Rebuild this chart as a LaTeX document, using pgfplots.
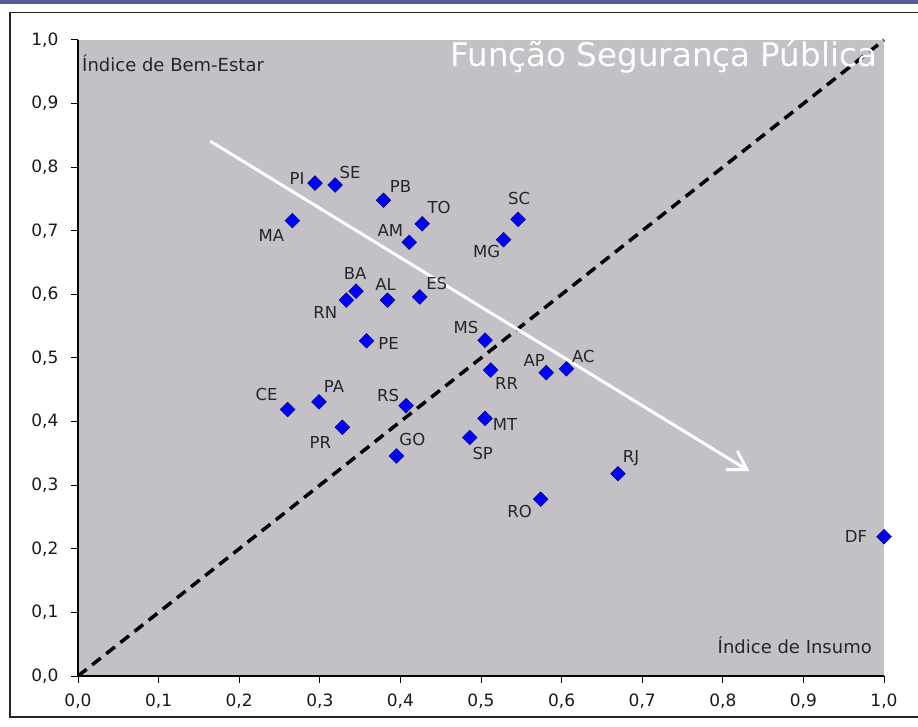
\documentclass[border=0pt]{standalone}
\usepackage{fontspec}
\setmainfont{DejaVu Sans}
\usepackage{pgfplots}
\usepackage{pgfplotstable}
\pgfplotsset{compat=1.18}
\usetikzlibrary{arrows.meta}
\definecolor{plotgray}{RGB}{195,193,198}
\definecolor{band}{RGB}{88,92,150}
\definecolor{mblue}{RGB}{0,0,255}

\pgfplotstableread{
label x y dx dy
PI 0.294 0.775 -18 5
SE 0.319 0.772 15 13
PB 0.379 0.748 17 14
TO 0.427 0.711 17 16
AM 0.411 0.682 -19 12
MA 0.266 0.716 -21 -15
SC 0.546 0.718 1 21
MG 0.528 0.686 -17 -12
BA 0.345 0.605 -1 18
RN 0.333 0.591 -21 -12
AL 0.384 0.591 -2 16
ES 0.424 0.596 17 13
PE 0.358 0.527 22 -3
MS 0.505 0.528 -19 13
RR 0.512 0.481 16 -13
AP 0.581 0.477 -12 12
AC 0.606 0.483 17 12
CE 0.260 0.419 -21 15
PA 0.299 0.431 15 15
RS 0.407 0.425 -18 10
PR 0.328 0.391 -22 -15
MT 0.505 0.405 20 -6
SP 0.486 0.375 13 -16
GO 0.395 0.346 16 16
RO 0.574 0.278 -21 -12
RJ 0.670 0.318 13 16
DF 1.000 0.219 -28 0
}\states

\begin{document}
\begin{tikzpicture}[x=1pt,y=1pt]
\path[use as bounding box] (0,0) rectangle (918,726);
\fill[white] (0,0) rectangle (918,726);
\fill[band] (0,721.5) rectangle (918,726);
\draw[line width=1.4pt, black!85] (918,713.3) -- (10,713.3) -- (10,9) -- (918,9);
\begin{axis}[
  at={(78pt,50pt)}, anchor=south west,
  scale only axis, width=806pt, height=636pt,
  xmin=0, xmax=1, ymin=0, ymax=1,
  axis background/.style={fill=plotgray},
  axis x line*=bottom, axis y line*=left,
  axis line style={-, black, line width=1.2pt},
  xtick={0,0.1,0.2,0.3,0.4,0.5,0.6,0.7,0.8,0.9,1},
  ytick={0,0.1,0.2,0.3,0.4,0.5,0.6,0.7,0.8,0.9,1},
  tick align=outside, major tick length=7pt,
  tick style={black, line width=1pt},
  tick label style={font=\fontsize{17}{20}\selectfont, text=black!90},
  xticklabel style={yshift=-7pt},
  yticklabel style={xshift=-9pt},
  /pgf/number format/use comma,
  /pgf/number format/fixed,
  /pgf/number format/fixed zerofill,
  /pgf/number format/precision=1,
  /pgf/number format/assume math mode=true,
  clip=false,
]
\addplot[black, line width=3.5pt, dash pattern=on 11pt off 7pt] coordinates {(0,0) (1,1)};
\addplot[white, line width=3pt, -{Straight Barb[length=18pt, width=22pt]}] coordinates {(0.164,0.841) (0.833,0.322)};
\addplot[only marks, mark=square*, mark size=5.2pt,
  mark options={rotate=45, fill=mblue, draw=black!60!blue, line width=0.5pt},
  point meta=explicit symbolic,
  nodes near coords,
  visualization depends on={\thisrow{dx}\as\mydx},
  visualization depends on={\thisrow{dy}\as\mydy},
  every node near coord/.append style={anchor=center, xshift=\mydx pt, yshift=\mydy pt,
    font=\fontsize{16.5}{16.5}\selectfont, text=black!85, inner sep=0pt},
] table[x=x, y=y, meta=label] \states;
\end{axis}
\node[anchor=base west, inner sep=0pt, font=\fontsize{18}{18}\selectfont, text=black!85] at (82,654) {Índice de Bem-Estar};
\node[anchor=base east, inner sep=0pt, font=\fontsize{18}{18}\selectfont, text=black!85] at (872,73) {Índice de Insumo};
\node[anchor=base east, inner sep=0pt, font=\fontsize{32.5}{32.5}\selectfont, text=white] at (877,659.5) {Função Segurança Pública};
\end{tikzpicture}
\end{document}
